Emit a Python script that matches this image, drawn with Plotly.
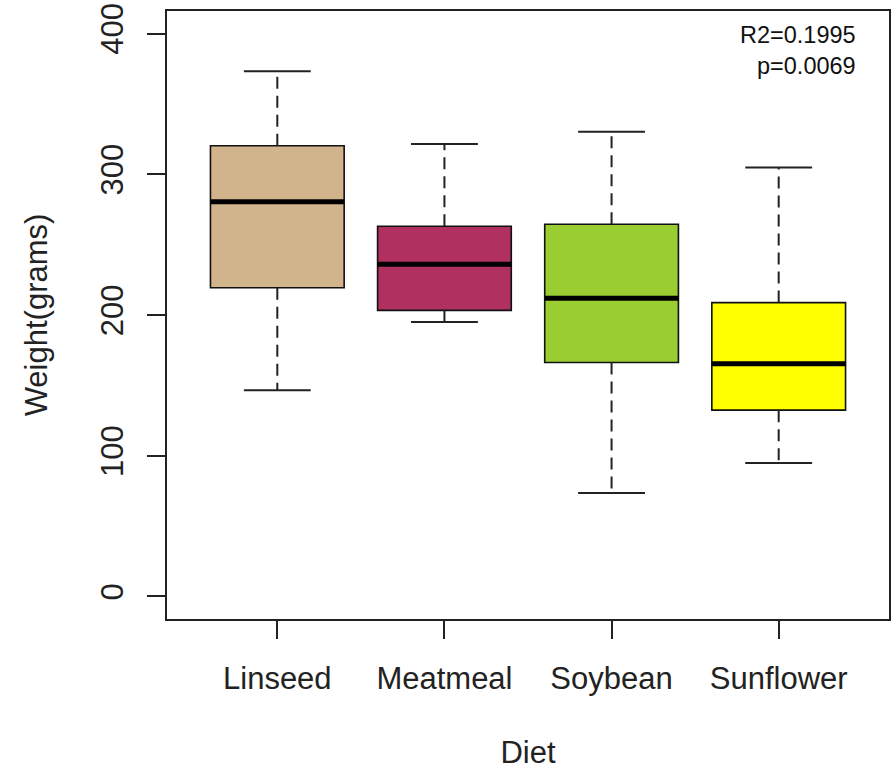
import plotly.graph_objects as go

# Diet groups and their box-plot summary statistics (weight in grams)
diets = ["Linseed", "Meatmeal", "Soybean", "Sunflower"]
lower_whisker = [146.6, 195.0, 73.5, 94.9]
q1 = [219.4, 203.3, 166.3, 132.4]
median = [280.4, 236.1, 211.9, 165.4]
q3 = [320.3, 263.1, 264.5, 208.8]
upper_whisker = [373.2, 321.5, 330.2, 304.8]
colors = ["#D2B48C", "#B03060", "#9ACD32", "#FFFF00"]

y_ticks = [0, 100, 200, 300, 400]
stats_text = ["R2=0.1995", "p=0.0069"]

FONT = "Liberation Sans, Arial, sans-serif"
BOX_W = 0.8
CAP_W = 0.4

fig = go.Figure()

for i, name in enumerate(diets):
    pos = i + 1
    # box body (whiskers collapsed; drawn separately as dashed lines)
    fig.add_trace(go.Box(
        x=[pos], q1=[q1[i]], median=[median[i]], q3=[q3[i]],
        lowerfence=[q1[i]], upperfence=[q3[i]],
        width=BOX_W, whiskerwidth=0,
        fillcolor=colors[i],
        line=dict(color="#111111", width=1.6),
        boxpoints=False, hoverinfo="skip", showlegend=False,
    ))

for i, name in enumerate(diets):
    pos = i + 1
    # dashed whiskers
    fig.add_trace(go.Scatter(
        x=[pos, pos, None, pos, pos],
        y=[q3[i], upper_whisker[i], None, q1[i], lower_whisker[i]],
        mode="lines", line=dict(color="#222222", width=2, dash="12px,7px"),
        hoverinfo="skip", showlegend=False,
    ))
    # whisker caps
    fig.add_trace(go.Scatter(
        x=[pos - CAP_W / 2, pos + CAP_W / 2, None, pos - CAP_W / 2, pos + CAP_W / 2],
        y=[upper_whisker[i], upper_whisker[i], None, lower_whisker[i], lower_whisker[i]],
        mode="lines", line=dict(color="#222222", width=2),
        hoverinfo="skip", showlegend=False,
    ))
    # thick median bar
    fig.add_trace(go.Scatter(
        x=[pos - BOX_W / 2, pos + BOX_W / 2],
        y=[median[i], median[i]],
        mode="lines", line=dict(color="black", width=5),
        hoverinfo="skip", showlegend=False,
    ))

fig.add_annotation(text=stats_text[0], xref="paper", yref="paper",
                   x=0.957, y=0.961, xanchor="right", yanchor="middle",
                   showarrow=False, font=dict(family=FONT, size=23.5, color="#111111"))
fig.add_annotation(text=stats_text[1], xref="paper", yref="paper",
                   x=0.957, y=0.909, xanchor="right", yanchor="middle",
                   showarrow=False, font=dict(family=FONT, size=23.5, color="#111111"))

axis_common = dict(
    showgrid=False, zeroline=False, automargin=False,
    showline=True, mirror=True, linecolor="#222222", linewidth=2,
    ticks="outside", ticklen=18, tickwidth=2, tickcolor="#222222",
    tickfont=dict(family=FONT, size=31, color="#222222"),
)

fig.update_xaxes(
    range=[0.34, 4.66], tickmode="array",
    tickvals=[1, 2, 3, 4], ticktext=diets,
    ticklabelstandoff=13,
    title=dict(text="Diet", font=dict(family=FONT, size=31, color="#222222"), standoff=57),
    **axis_common,
)
fig.update_yaxes(
    range=[-16, 416], tickmode="array", tickvals=y_ticks,
    tickangle=-90, ticklabelstandoff=12,
    title=dict(text="Weight(grams)", font=dict(family=FONT, size=31, color="#222222"), standoff=38),
    **axis_common,
)

fig.update_layout(
    width=893, height=770,
    margin=dict(l=167, r=4, t=11, b=151),
    paper_bgcolor="white", plot_bgcolor="white",
    showlegend=False,
)

fig.write_html("out.html")
